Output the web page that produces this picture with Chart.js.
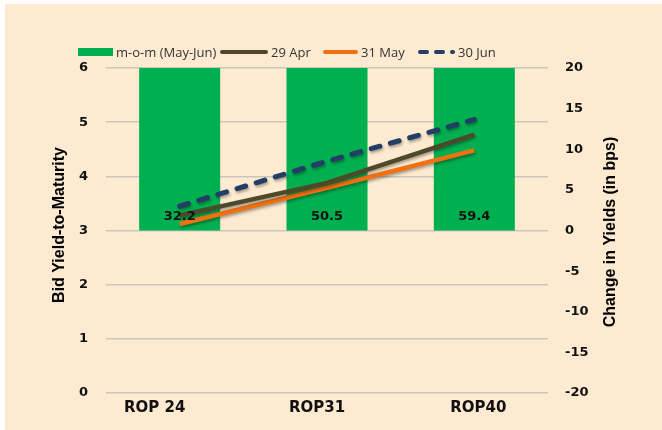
<!DOCTYPE html>
<html>
<head>
<meta charset="utf-8">
<script src="https://cdn.jsdelivr.net/npm/chart.js@4.4.1/dist/chart.umd.min.js"></script>
<style>
  html, body { margin: 0; padding: 0; background: #fff; }
  #wrap { width: 662px; height: 430px; }
</style>
</head>
<body>
<div id="wrap"><canvas id="yieldChart" width="662" height="430"></canvas></div>
<script>
// data
const bonds = ['ROP 24', 'ROP31', 'ROP40'];
const momChange = [32.2, 50.5, 59.4];   // bps, right axis
const yieldApr29 = [3.28, 3.88, 4.77];
const yieldMay31 = [3.12, 3.79, 4.48];
const yieldJun30 = [3.45, 4.28, 5.05];
const leftTicks = { min: 0, max: 6, step: 1 };
const rightTicks = { min: -20, max: 20, step: 5 };

// look
const panelColor = '#FDEAD0';
const gridColor = '#CBC6BD';
const labelShift = [-25, -10, 4]; // category labels sit a bit off centre in the original
const legendX = [78, 220, 323, 418];
const legendMarkW = [35, 48, 35, 37];

// background panel
const panelPlugin = {
  id: 'panel',
  beforeDraw(chart) {
    const ctx = chart.ctx;
    ctx.save();
    ctx.fillStyle = panelColor;
    ctx.fillRect(5, 4, chart.width - 5, chart.height - 4);
    ctx.restore();
  }
};

// soft shadow under the lines
const shadowPlugin = {
  id: 'lineShadow',
  beforeDatasetDraw(chart, args) {
    if (args.meta.type !== 'line') return;
    const ctx = chart.ctx;
    ctx.save();
    ctx.shadowColor = 'rgba(0,0,0,0.35)';
    ctx.shadowBlur = 3;
    ctx.shadowOffsetX = 1;
    ctx.shadowOffsetY = 2;
  },
  afterDatasetDraw(chart, args) {
    if (args.meta.type !== 'line') return;
    chart.ctx.restore();
  }
};

// value labels near bar base, category labels, axis titles, legend
const extrasPlugin = {
  id: 'extras',
  afterDatasetsDraw(chart) {
    const ctx = chart.ctx;
    const y1 = chart.scales.y1;
    const xs = chart.scales.x;
    const area = chart.chartArea;
    const barMeta = chart.getDatasetMeta(0);

    ctx.save();
    ctx.fillStyle = '#111';
    ctx.textAlign = 'center';
    ctx.textBaseline = 'middle';
    ctx.font = 'bold 13px "DejaVu Sans"';
    barMeta.data.forEach((bar, i) => {
      ctx.fillText(momChange[i].toFixed(1), bar.x, y1.getPixelForValue(0) - 14);
    });

    ctx.font = 'bold 15px "DejaVu Sans"';
    bonds.forEach((b, i) => {
      ctx.fillText(b, xs.getPixelForTick(i) + labelShift[i], area.bottom + 15);
    });

    // axis titles, both read bottom to top
    ctx.font = 'bold 16px "Liberation Sans", Arial, sans-serif';
    ctx.fillStyle = '#000';
    ctx.save();
    ctx.translate(60, 225);
    ctx.rotate(-Math.PI / 2);
    ctx.fillText('Bid Yield-to-Maturity', 0, 0);
    ctx.restore();
    ctx.save();
    ctx.translate(611, 232);
    ctx.rotate(-Math.PI / 2);
    ctx.fillText('Change in Yields (in bps)', 0, 0);
    ctx.restore();

    // legend
    ctx.textAlign = 'left';
    ctx.font = '13px "Open Sans", sans-serif';
    const ly = 52;
    chart.data.datasets.forEach((ds, i) => {
      const x = legendX[i];
      const w = legendMarkW[i];
      if (ds.type === 'line') {
        ctx.save();
        ctx.strokeStyle = ds.borderColor;
        ctx.lineWidth = 4;
        ctx.lineCap = 'round';
        ctx.setLineDash(ds.borderDash ? [7, 9] : []);
        ctx.beginPath();
        ctx.moveTo(x + 2, ly);
        ctx.lineTo(x + w - 2, ly);
        ctx.stroke();
        ctx.restore();
      } else {
        ctx.fillStyle = ds.backgroundColor;
        ctx.fillRect(x, ly - 4, w, 8);
      }
      ctx.fillStyle = '#333';
      ctx.fillText(ds.label, x + w + 3, ly + 1);
    });
    ctx.restore();
  }
};

new Chart(document.getElementById('yieldChart'), {
  type: 'bar',
  data: {
    labels: bonds,
    datasets: [
      {
        label: 'm-o-m (May-Jun)',
        data: momChange,
        backgroundColor: '#00B050',
        yAxisID: 'y1',
        barPercentage: 0.55,
        categoryPercentage: 1,
        clip: 0,
        order: 4
      },
      {
        type: 'line',
        label: '29 Apr',
        data: yieldApr29,
        borderColor: '#4D4A2B',
        borderWidth: 4.5,
        pointRadius: 0,
        yAxisID: 'y',
        order: 2
      },
      {
        type: 'line',
        label: '31 May',
        data: yieldMay31,
        borderColor: '#EE7214',
        borderWidth: 4.5,
        pointRadius: 0,
        yAxisID: 'y',
        order: 3
      },
      {
        type: 'line',
        label: '30 Jun',
        data: yieldJun30,
        borderColor: '#223E66',
        borderWidth: 5,
        borderDash: [9, 11],
        borderCapStyle: 'round',
        pointRadius: 0,
        yAxisID: 'y',
        order: 1
      }
    ]
  },
  options: {
    responsive: false,
    animation: false,
    layout: { padding: { top: 68, bottom: 37, left: 0, right: 0 } },
    plugins: {
      legend: { display: false },
      tooltip: { enabled: false }
    },
    scales: {
      x: {
        grid: { display: false },
        border: { display: false },
        ticks: { display: false },
        afterFit(scale) { scale.height = 0; }
      },
      y: {
        position: 'left',
        min: leftTicks.min,
        max: leftTicks.max,
        ticks: {
          stepSize: leftTicks.step,
          padding: 18,
          color: '#111',
          font: { family: 'DejaVu Sans', weight: 'bold', size: 13 }
        },
        grid: { color: gridColor, lineWidth: 1.5, drawTicks: false },
        border: { display: false },
        afterFit(scale) { scale.width = 106; }
      },
      y1: {
        position: 'right',
        min: rightTicks.min,
        max: rightTicks.max,
        ticks: {
          stepSize: rightTicks.step,
          padding: 17,
          color: '#111',
          font: { family: 'DejaVu Sans', weight: 'bold', size: 13 }
        },
        grid: { display: false, drawTicks: false },
        border: { display: false },
        afterFit(scale) { scale.width = 114; }
      }
    }
  },
  plugins: [panelPlugin, shadowPlugin, extrasPlugin]
});
</script>
</body>
</html>
